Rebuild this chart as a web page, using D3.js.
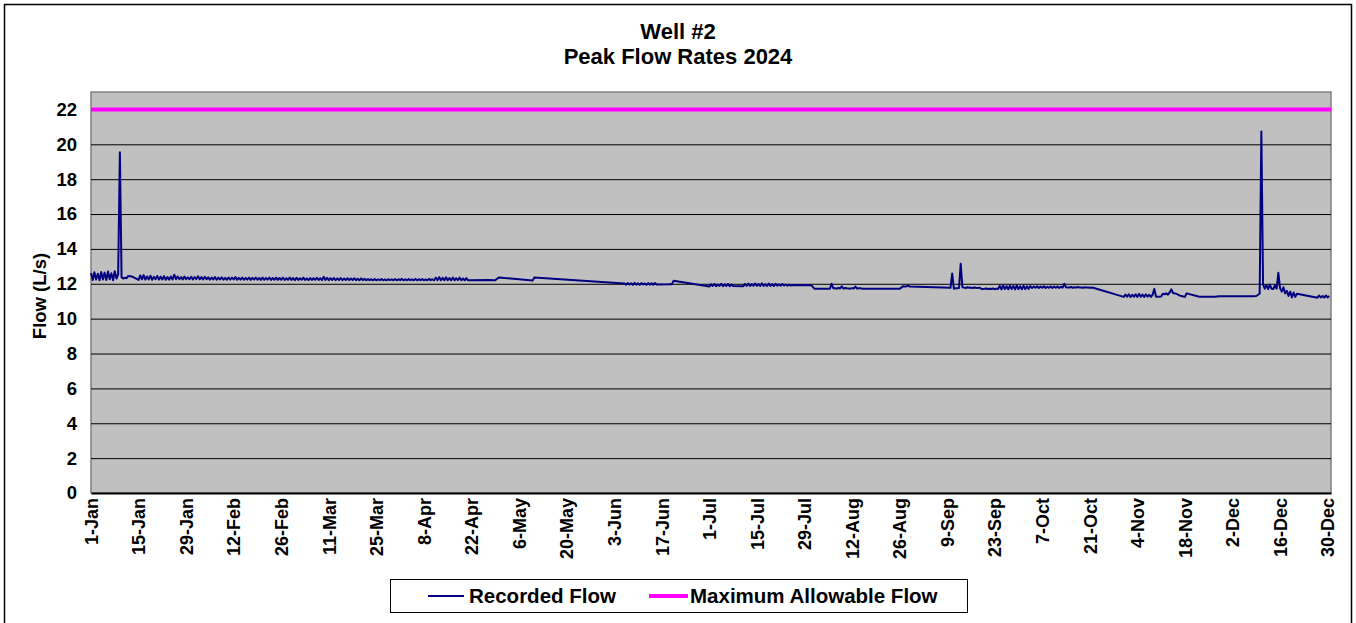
<!DOCTYPE html>
<html>
<head>
<meta charset="utf-8">
<script src="https://cdn.jsdelivr.net/npm/d3@7"></script>
<style>
  body { margin: 0; background: #ffffff; }
  svg text { font-family: "Liberation Sans", Arial, Helvetica, sans-serif; font-weight: bold; fill: #000; }
</style>
</head>
<body>
<div id="chart"></div>
<script>
// chart text
var titleLines = ["Well #2", "Peak Flow Rates 2024"];
var yAxisTitle = "Flow (L/s)";
var seriesNames = ["Recorded Flow", "Maximum Allowable Flow"];

// y axis ticks (L/s)
var yTicks = [0, 2, 4, 6, 8, 10, 12, 14, 16, 18, 20, 22];

// x axis labels, every 14 days from 1 Jan
var xTickLabels = ["1-Jan", "15-Jan", "29-Jan", "12-Feb", "26-Feb", "11-Mar", "25-Mar",
  "8-Apr", "22-Apr", "6-May", "20-May", "3-Jun", "17-Jun", "1-Jul", "15-Jul", "29-Jul",
  "12-Aug", "26-Aug", "9-Sep", "23-Sep", "7-Oct", "21-Oct", "4-Nov", "18-Nov", "2-Dec",
  "16-Dec", "30-Dec"];

var maxAllowableFlow = 22;

// recorded peak flow: [day of year (0 = 1 Jan), morning reading, afternoon reading]
var flowLog = [
  [0,12.62,12.22],[1,12.66,12.25],[2,12.58,12.2],[3,12.68,12.24],[4,12.64,12.22],
  [5,12.7,12.26],[6,12.6,12.2],[7,12.72,12.3],[8,12.55,19.55],[9,12.38,12.3],
  [10,12.35,12.32],[11,12.45],[12,12.42],
  [14,12.22,12.48],[15,12.26,12.5],[16,12.24,12.42],[17,12.25,12.46],[18,12.23,12.4],
  [19,12.26,12.45],[20,12.24,12.41],[21,12.25,12.44],[22,12.23,12.38],[23,12.24,12.42],
  [24,12.25,12.52],[25,12.26,12.42],[26,12.27,12.38],[27,12.25,12.41],[28,12.27,12.37],
  [29,12.26,12.4],[30,12.25,12.38],[31,12.27,12.43],[32,12.26,12.38],[33,12.25,12.4],
  [34,12.26,12.37],[35,12.24,12.36],[36,12.25,12.38],[37,12.23,12.35],[38,12.25,12.37],
  [39,12.24,12.34],[40,12.23,12.36],[41,12.24,12.35],[42,12.25,12.38],[43,12.23,12.34],
  [44,12.24,12.36],[45,12.23,12.33],[46,12.24,12.35],[47,12.22,12.34],[48,12.24,12.36],
  [49,12.23,12.33],[50,12.22,12.35],[51,12.23,12.33],[52,12.24,12.36],[53,12.22,12.33],
  [54,12.23,12.35],[55,12.22,12.33],[56,12.23,12.35],[57,12.22,12.32],[58,12.23,12.36],
  [59,12.22,12.33],[60,12.21,12.34],[61,12.22,12.32],[62,12.23,12.35],[63,12.22,12.31],
  [64,12.21,12.33],[65,12.22,12.32],[66,12.23,12.34],[67,12.22,12.32],[68,12.21,12.4],
  [69,12.22,12.34],[70,12.21,12.32],[71,12.22,12.33],[72,12.21,12.31],[73,12.22,12.33],
  [74,12.21,12.3],[75,12.22,12.32],[76,12.21,12.3],[77,12.22,12.32],[78,12.21,12.29],
  [79,12.2,12.31],[80,12.21,12.29],[81,12.2,12.27],[82,12.21,12.26],[83,12.2,12.27],
  [84,12.2,12.25],[85,12.21,12.27],[86,12.2,12.25],[87,12.2,12.26],[88,12.21,12.25],
  [89,12.2,12.27],[90,12.2,12.26],[91,12.21,12.28],[92,12.2,12.26],[93,12.2,12.27],
  [94,12.21,12.25],[95,12.2,12.28],[96,12.2,12.26],[97,12.21,12.27],[98,12.2,12.25],
  [99,12.2,12.28],[100,12.21,12.26],[101,12.2,12.36],[102,12.21,12.38],[103,12.2,12.34],
  [104,12.2,12.37],[105,12.21,12.33],[106,12.2,12.36],[107,12.2,12.32],[108,12.21,12.35],
  [109,12.2,12.3],[110,12.2,12.33],[111,12.2],
  [117,12.21],[119,12.2],[120,12.36],[130,12.19,12.36],
  [157,12.02,11.95],[158,12.04,11.96],[159,12.03,11.94],[160,12.05,11.95],[161,12.03,11.94],
  [162,12.04,11.96],[163,12.02,11.94],[164,12.04,11.95],[165,12.03,11.95],[166,12.04,11.96],
  [170,11.97],[171,11.98,12.18],
  [182,11.84,11.97],[183,11.87,11.99],[184,11.86,11.96],[185,11.88,12.0],[186,11.86,11.97],
  [187,11.87,11.99],[188,11.86,11.96],[189,11.87],
  [192,11.86,11.99],[193,11.88,12.01],[194,11.87,11.98],[195,11.89,12.02],[196,11.88,11.99],
  [197,11.87,12.03],[198,11.88,11.98],[199,11.87,12.01],[200,11.88,11.98],[201,11.87,12.0],
  [202,11.89,11.97],[203,11.88,11.99],[204,11.9,11.96],[205,11.89,11.95],[206,11.9,11.93],
  [212,11.92],[213,11.71],[217,11.71,11.72],[218,12.0,11.75],
  [219,11.74,11.72],[220,11.76,11.73],[221,11.85,11.72],[222,11.76,11.74],[223,11.73,11.72],
  [224,11.75,11.73],[225,11.84,11.72],[226,11.75,11.74],[227,11.72,11.71],
  [238,11.71],[239,11.86,11.84],[240,11.85,11.9],[241,11.84],
  [253,11.77,12.59],[254,11.72,11.74],[255,11.75,11.76],[256,13.15,11.8],
  [257,11.78,11.76],[258,11.8,11.77],[259,11.78,11.76],[260,11.79,11.77],[261,11.76,11.78],
  [262,11.72,11.7],[263,11.71,11.73],[264,11.7,11.72],[265,11.7,11.73],[266,11.69,11.72],
  [267,11.7,11.88],[268,11.68,11.9],[269,11.7,11.86],[270,11.69,11.89],[271,11.7,11.87],
  [272,11.68,11.9],[273,11.7,11.86],[274,11.69,11.88],[275,11.7,11.85],[276,11.71,11.87],
  [277,11.76,11.85],[278,11.77,11.86],[279,11.76,11.84],[280,11.77,11.86],[281,11.76,11.83],
  [282,11.77,11.85],[283,11.76,11.84],[284,11.77,11.85],[285,11.76,11.83],[286,11.78,12.0],
  [287,11.8,11.78],[288,11.79,11.82],[289,11.77,11.8],[290,11.79,11.82],[291,11.78,11.79],
  [292,11.77,11.8],[293,11.78,11.79],[294,11.77,11.78],[295,11.77],
  [304,11.25,11.38],[305,11.26,11.4],[306,11.25,11.37],[307,11.26,11.39],[308,11.25,11.42],
  [309,11.26,11.38],[310,11.25,11.4],[311,11.26,11.37],[312,11.25,11.38],[313,11.71,11.25],
  [314,11.26],[315,11.27,11.43],[316,11.4,11.45],[317,11.38,11.5],[318,11.68,11.47],
  [319,11.45,11.42],[320,11.38,11.32],[321,11.3,11.27],[322,11.25,11.45],[326,11.27,11.25],
  [331,11.25],[332,11.28],[342,11.28],[343,11.3],[344,11.43,20.73],
  [345,11.96,11.72],[346,11.92,11.7],[347,11.95,11.72],[348,11.7,11.9],[349,11.72,12.63],
  [350,11.75,11.55],[351,11.8,11.45],[352,11.6,11.3],[353,11.55,11.22],[354,11.5,11.25],
  [355,11.43],[361,11.2,11.32],[362,11.22,11.3],[363,11.21,11.33],[364,11.22,11.3]
];

var W = 1356, H = 623;
var plot = { left: 91, top: 92, right: 1331, bottom: 493 };

var start = new Date(2024, 0, 1);
var end = new Date(2024, 11, 31);

var points = [];
flowLog.forEach(function (r) {
  points.push({ date: d3.timeHour.offset(start, r[0] * 24), flow: r[1] });
  if (r.length > 2) {
    points.push({ date: d3.timeHour.offset(start, r[0] * 24 + 12), flow: r[2] });
  }
});

var svg = d3.select("#chart").append("svg")
  .attr("width", W)
  .attr("height", H);

// chart area border
svg.append("rect")
  .attr("x", 4.5).attr("y", 4.5)
  .attr("width", 1347).attr("height", 650)
  .attr("fill", "#fff")
  .attr("stroke", "#000")
  .attr("stroke-width", 1.5);

var x = d3.scaleTime().domain([start, end]).range([plot.left, plot.right]);
var y = d3.scaleLinear().domain([0, 23]).range([plot.bottom, plot.top]);

// plot area
svg.append("rect")
  .attr("x", plot.left).attr("y", plot.top)
  .attr("width", plot.right - plot.left)
  .attr("height", plot.bottom - plot.top)
  .attr("fill", "#c0c0c0")
  .attr("stroke", "#808080")
  .attr("stroke-width", 1.5);

// gridlines
svg.append("g")
  .attr("transform", "translate(" + plot.left + ",0)")
  .call(d3.axisLeft(y).tickValues(yTicks.filter(function (d) { return d > 0; }))
    .tickSize(-(plot.right - plot.left)).tickFormat(""))
  .call(function (g) { g.select(".domain").remove(); })
  .selectAll("line")
  .attr("stroke", "#000")
  .attr("stroke-width", 1);

// y tick labels
svg.append("g")
  .attr("transform", "translate(" + plot.left + ",0)")
  .call(d3.axisLeft(y).tickValues(yTicks).tickSize(0).tickPadding(14))
  .call(function (g) { g.select(".domain").remove(); })
  .selectAll("text")
  .style("font-size", "18.5px")
  .style("font-family", "'Liberation Sans', Arial, sans-serif")
  .style("font-weight", "bold")
  .attr("fill", "#000");

// x axis
var tickDates = d3.timeDay.range(start, end, 14);
var xAxis = svg.append("g")
  .attr("transform", "translate(0," + plot.bottom + ")")
  .call(d3.axisBottom(x).tickValues(tickDates).tickSize(0)
    .tickFormat(function (d, i) { return xTickLabels[i]; }));
xAxis.select(".domain")
  .attr("stroke", "#000")
  .attr("stroke-width", 2);
xAxis.selectAll("text")
  .attr("transform", "rotate(-90)")
  .attr("x", -5)
  .attr("y", 0)
  .attr("dy", "0.35em")
  .style("text-anchor", "end")
  .style("font-size", "18px")
  .style("font-family", "'Liberation Sans', Arial, sans-serif")
  .style("font-weight", "bold")
  .attr("fill", "#000");

// maximum allowable flow
svg.append("line")
  .attr("x1", x(start)).attr("x2", x(end))
  .attr("y1", y(maxAllowableFlow)).attr("y2", y(maxAllowableFlow))
  .attr("stroke", "#ff00ff")
  .attr("stroke-width", 4);

// recorded flow
svg.append("path")
  .datum(points)
  .attr("fill", "none")
  .attr("stroke", "#000080")
  .attr("stroke-width", 2)
  .attr("stroke-linejoin", "round")
  .attr("d", d3.line()
    .x(function (d) { return x(d.date); })
    .y(function (d) { return y(d.flow); }));

// titles
svg.selectAll("text.title")
  .data(titleLines)
  .enter()
  .append("text")
  .attr("class", "title")
  .attr("x", 678)
  .attr("y", function (d, i) { return 39 + i * 25; })
  .attr("text-anchor", "middle")
  .style("font-size", "22px")
  .text(function (d) { return d; });

svg.append("text")
  .attr("transform", "translate(46,296) rotate(-90)")
  .attr("text-anchor", "middle")
  .style("font-size", "18.5px")
  .text(yAxisTitle);

// legend
var legend = svg.append("g");
legend.append("rect")
  .attr("x", 390.5).attr("y", 579.5)
  .attr("width", 577).attr("height", 33)
  .attr("fill", "#fff")
  .attr("stroke", "#000")
  .attr("stroke-width", 1);

var legendItems = [
  { name: seriesNames[0], color: "#000080", width: 2, x1: 428, x2: 464, tx: 469 },
  { name: seriesNames[1], color: "#ff00ff", width: 4, x1: 649, x2: 688, tx: 690 }
];
legend.selectAll("line.key")
  .data(legendItems)
  .enter()
  .append("line")
  .attr("x1", function (d) { return d.x1; })
  .attr("x2", function (d) { return d.x2; })
  .attr("y1", 596).attr("y2", 596)
  .attr("stroke", function (d) { return d.color; })
  .attr("stroke-width", function (d) { return d.width; });
legend.selectAll("text.key")
  .data(legendItems)
  .enter()
  .append("text")
  .attr("x", function (d) { return d.tx; })
  .attr("y", 603)
  .style("font-size", "20.5px")
  .text(function (d) { return d.name; });
</script>
</body>
</html>
